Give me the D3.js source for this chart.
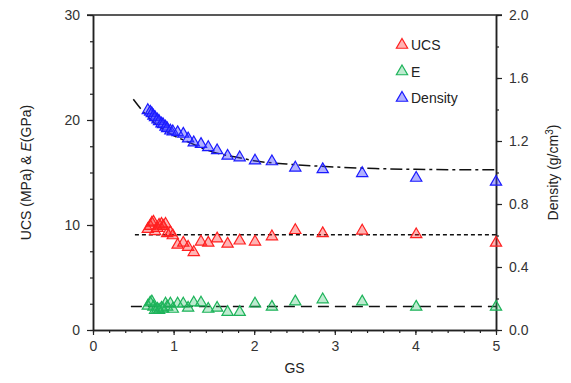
<!DOCTYPE html>
<html><head><meta charset="utf-8">
<script src="https://cdn.jsdelivr.net/npm/d3@7"></script>
<style>body{margin:0;background:#fff}svg{display:block;font-family:"Liberation Sans",Arial,sans-serif}</style>
</head><body><svg id="c" width="571" height="383"></svg>
<script>
const gs = [0.68,0.71,0.73,0.75,0.77,0.80,0.82,0.85,0.87,0.90,0.92,0.96,0.99,1.05,1.12,1.18,1.25,1.34,1.43,1.54,1.67,1.82,2.01,2.22,2.51,2.85,3.34,4.01,5.0];
const ucs = [9.6,9.9,10.2,10.3,9.4,9.7,10.0,10.1,9.9,10.1,9.2,9.3,9.0,8.1,8.3,7.9,7.4,8.4,8.3,8.7,8.2,8.5,8.4,8.9,9.5,9.2,9.45,9.1,8.3];
const eMod = [2.3,2.6,2.7,2.2,1.9,2.0,1.9,2.1,2.0,2.5,2.2,2.5,2.0,2.5,2.5,2.1,2.6,2.6,2.0,2.1,1.7,1.7,2.5,2.2,2.7,2.9,2.7,2.2,2.2];
const density = [1.395,1.385,1.375,1.36,1.35,1.335,1.325,1.31,1.305,1.29,1.28,1.265,1.26,1.255,1.245,1.215,1.19,1.18,1.16,1.14,1.105,1.095,1.075,1.07,1.03,1.02,0.995,0.965,0.94];
const fitGs = [0.5,0.6,0.7,0.8,0.9,1.0,1.2,1.4,1.6,1.8,2.0,2.5,3.0,3.5,4.0,5.0];
const fitDensity = [1.465,1.40,1.345,1.30,1.265,1.235,1.19,1.145,1.115,1.095,1.075,1.05,1.035,1.025,1.02,1.017];
const fitUcs = [[0.52,9.07],[5.0,9.07]];
const fitE = [[0.47,2.25],[5.0,2.25]];
const xTicks = [0,1,2,3,4,5];
const yTicks = [0,10,20,30];
const y2Ticks = [0.0,0.4,0.8,1.2,1.6,2.0];
const legendItems = ["UCS","E","Density"];

const svg = d3.select("#c");
const L=93,R=496,T=15,B=330;
const x = d3.scaleLinear().domain([0,5]).range([L,R]);
const y = d3.scaleLinear().domain([0,30]).range([B,T]);
const y2 = d3.scaleLinear().domain([0,2]).range([B,T]);
const axisCol="#222", txtCol="#333";

function styleAxis(g){
  g.selectAll("path").attr("stroke",axisCol).attr("stroke-width",1.5);
  g.selectAll("line").attr("stroke",axisCol).attr("stroke-width",1.2);
  g.selectAll("text").attr("fill",txtCol).style("font-size","14px").style("font-family","Liberation Sans, Arial, sans-serif");
}
// minor ticks
const gxMinor = svg.append("g").attr("transform",`translate(0,${B})`).call(d3.axisBottom(x).tickValues(d3.range(0,5.01,0.2)).tickSize(3).tickFormat("").tickSizeOuter(0));
styleAxis(gxMinor);
const gyMinor = svg.append("g").attr("transform",`translate(${L},0)`).call(d3.axisLeft(y).tickValues(d3.range(0,30.1,2.5)).tickSize(3).tickFormat("").tickSizeOuter(0));
styleAxis(gyMinor);
const gy2Minor = svg.append("g").attr("transform",`translate(${R},0)`).call(d3.axisRight(y2).tickValues(d3.range(0,2.01,0.2)).tickSize(3).tickFormat("").tickSizeOuter(0));
styleAxis(gy2Minor);

const gx = svg.append("g").attr("transform",`translate(0,${B})`).call(d3.axisBottom(x).tickValues(xTicks).tickFormat(d3.format("d")).tickSize(5).tickPadding(6).tickSizeOuter(0));
styleAxis(gx);
const gy = svg.append("g").attr("transform",`translate(${L},0)`).call(d3.axisLeft(y).tickValues(yTicks).tickSize(6).tickPadding(7).tickSizeOuter(0));
styleAxis(gy);
const gy2 = svg.append("g").attr("transform",`translate(${R},0)`).call(d3.axisRight(y2).tickValues(y2Ticks).tickFormat(d3.format(".1f")).tickSize(6).tickPadding(7).tickSizeOuter(0));
styleAxis(gy2);
// top border
svg.append("line").attr("x1",L-6).attr("x2",R+6).attr("y1",T).attr("y2",T).attr("stroke",axisCol).attr("stroke-width",1.5);

// fit lines
const line = d3.line().x(d=>x(d[0])).y(d=>y(d[1]));
svg.append("path").attr("d",line(fitUcs)).attr("fill","none").attr("stroke","#111").attr("stroke-width",1.5).attr("stroke-dasharray","4,3");
svg.append("path").attr("d",line(fitE)).attr("fill","none").attr("stroke","#111").attr("stroke-width",1.5).attr("stroke-dasharray","11,6");
const dline = d3.line().x((d,i)=>x(fitGs[i])).y(d=>y2(d)).curve(d3.curveMonotoneX);
svg.append("path").attr("d",dline(fitDensity)).attr("fill","none").attr("stroke","#111").attr("stroke-width",1.5).attr("stroke-dasharray","12,4,3,4");

const tri = d3.symbol().type(d3.symbolTriangle).size(55);
const series = [
  {vals:ucs, sc:y, stroke:"#ff2020", fill:"rgba(255,40,40,0.35)"},
  {vals:eMod, sc:y, stroke:"#1db35a", fill:"rgba(40,190,100,0.3)"},
  {vals:density, sc:y2, stroke:"#1a1aff", fill:"rgba(60,60,255,0.4)"}
];
series.forEach(s=>{
  svg.append("g").selectAll("path").data(s.vals).join("path")
    .attr("d",tri).attr("transform",(d,i)=>`translate(${x(gs[i])},${s.sc(d)})`)
    .attr("fill",s.fill).attr("stroke",s.stroke).attr("stroke-width",1.2);
});

// legend
const lg = svg.append("g");
legendItems.forEach((t,i)=>{
  const cy = 45 + i*26.5;
  lg.append("path").attr("d",tri).attr("transform",`translate(402,${cy})`).attr("fill",series[i].fill).attr("stroke",series[i].stroke).attr("stroke-width",1.2);
  lg.append("text").attr("x",411).attr("y",cy+5).attr("fill","#222").style("font-size","14px").text(t);
});

// titles
svg.append("text").attr("x",x(2.5)).attr("y",373).attr("text-anchor","middle").attr("fill","#222").style("font-size","14px").text("GS");
const lt = svg.append("text").attr("transform",`translate(31,${(T+B)/2}) rotate(-90)`).attr("text-anchor","middle").attr("fill","#222").style("font-size","14px");
lt.append("tspan").text("UCS (MPa) & ");
lt.append("tspan").style("font-style","italic").text("E");
lt.append("tspan").text("(GPa)");
const rt = svg.append("text").attr("transform",`translate(558,${(T+B)/2}) rotate(-90)`).attr("text-anchor","middle").attr("fill","#222").style("font-size","14px");
rt.append("tspan").text("Density (g/cm");
rt.append("tspan").attr("dy",-5).style("font-size","10px").text("3");
rt.append("tspan").attr("dy",5).text(")");
</script></body></html>
